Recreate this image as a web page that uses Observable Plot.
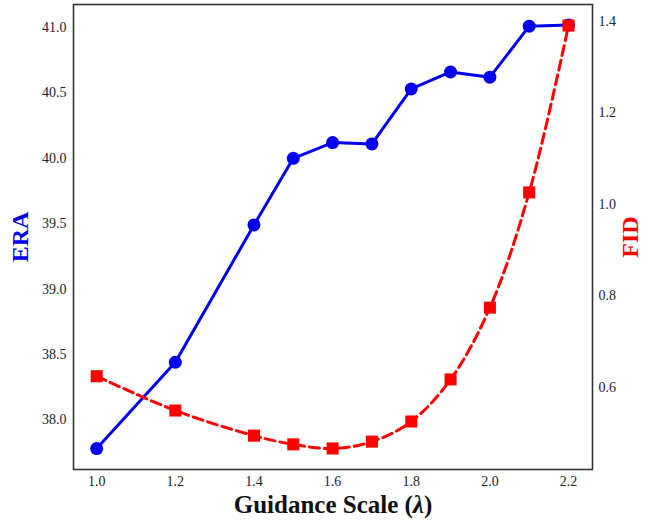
<!DOCTYPE html>
<html>
<head>
<meta charset="utf-8">
<script src="https://cdn.jsdelivr.net/npm/d3@7"></script>
<script src="https://cdn.jsdelivr.net/npm/@observablehq/plot@0.6"></script>
<style>
  html, body { margin: 0; padding: 0; background: #fff; }
  #chart svg { display: block; }
</style>
</head>
<body>
<div id="chart"></div>
<script>
const scales = [1.0, 1.2, 1.4, 1.5, 1.6, 1.7, 1.8, 1.9, 2.0, 2.1, 2.2];
const era = [37.78, 38.44, 39.49, 40.00, 40.12, 40.11, 40.53, 40.66, 40.62, 41.01, 41.02];
const fid = [0.624, 0.549, 0.494, 0.475, 0.466, 0.481, 0.525, 0.617, 0.774, 1.026, 1.391];

const xTicks = [1.0, 1.2, 1.4, 1.6, 1.8, 2.0, 2.2];
const eraTicks = [38.0, 38.5, 39.0, 39.5, 40.0, 40.5, 41.0];
const fidTicks = [0.6, 0.8, 1.0, 1.2, 1.4];

const xDomain = [0.941, 2.261];
const eraDomain = [37.62, 41.176];
const fidDomain = [0.42, 1.437];

const toY = f => eraDomain[0] + (f - fidDomain[0]) / (fidDomain[1] - fidDomain[0]) * (eraDomain[1] - eraDomain[0]);

const eraData = scales.map((s, i) => ({x: s, y: era[i]}));
const fidData = scales.map((s, i) => ({x: s, y: toY(fid[i])}));

const font = "'Liberation Serif', 'Times New Roman', serif";

const chart = Plot.plot({
  width: 649,
  height: 522,
  marginLeft: 73,
  marginRight: 57,
  marginTop: 4,
  marginBottom: 53,
  style: {fontFamily: font, fontSize: "14px", color: "#222", background: "#fff"},
  x: {domain: xDomain},
  y: {domain: eraDomain},
  marks: [
    Plot.axisX(xTicks, {tickSize: 0, tickPadding: 7, tickFormat: d => d.toFixed(1), label: null, fontSize: 14}),
    Plot.axisY(eraTicks, {anchor: "left", tickSize: 0, tickPadding: 7, tickFormat: d => d.toFixed(1), label: null, fontSize: 14}),
    Plot.axisY(fidTicks.map(toY), {anchor: "right", tickSize: 0, tickPadding: 6, tickFormat: (d, i) => fidTicks[i].toFixed(1), label: null, fontSize: 14}),
    Plot.line(eraData, {x: "x", y: "y", stroke: "#0000ee", strokeWidth: 3}),
    Plot.dot(eraData, {x: "x", y: "y", fill: "#0000ee", r: 6.5, symbol: "circle"}),
    Plot.line(fidData, {x: "x", y: "y", stroke: "#ff0000", strokeWidth: 3, strokeDasharray: "10,5", curve: "catmull-rom"}),
    Plot.dot(fidData, {x: "x", y: "y", fill: "#ff0000", r: 6.8, symbol: "square"}),
    Plot.frame({stroke: "#333", strokeWidth: 1.6}),
    Plot.text(["ERA"], {frameAnchor: "left", dx: -53, rotate: -90, textAnchor: "middle", lineAnchor: "middle", fill: "#0000ee", fontSize: 24, fontWeight: "bold", fontFamily: font}),
    Plot.text(["FID"], {frameAnchor: "right", dx: 38, rotate: -90, textAnchor: "middle", lineAnchor: "middle", fill: "#ff0000", fontSize: 24, fontWeight: "bold", fontFamily: font}),
    Plot.text(["Guidance Scale (λ)"], {frameAnchor: "bottom", dy: 35, textAnchor: "middle", lineAnchor: "middle", fill: "#111", fontSize: 25, fontWeight: "bold", fontFamily: font})
  ]
});

document.getElementById("chart").appendChild(chart);

// italicise the lambda
d3.select(chart).selectAll("text").each(function() {
  const t = d3.select(this);
  if (t.text() === "Guidance Scale (λ)") {
    t.text(null);
    t.append("tspan").text("Guidance Scale (");
    t.append("tspan").attr("font-style", "italic").text("λ");
    t.append("tspan").text(")");
  }
});
</script>
</body>
</html>
